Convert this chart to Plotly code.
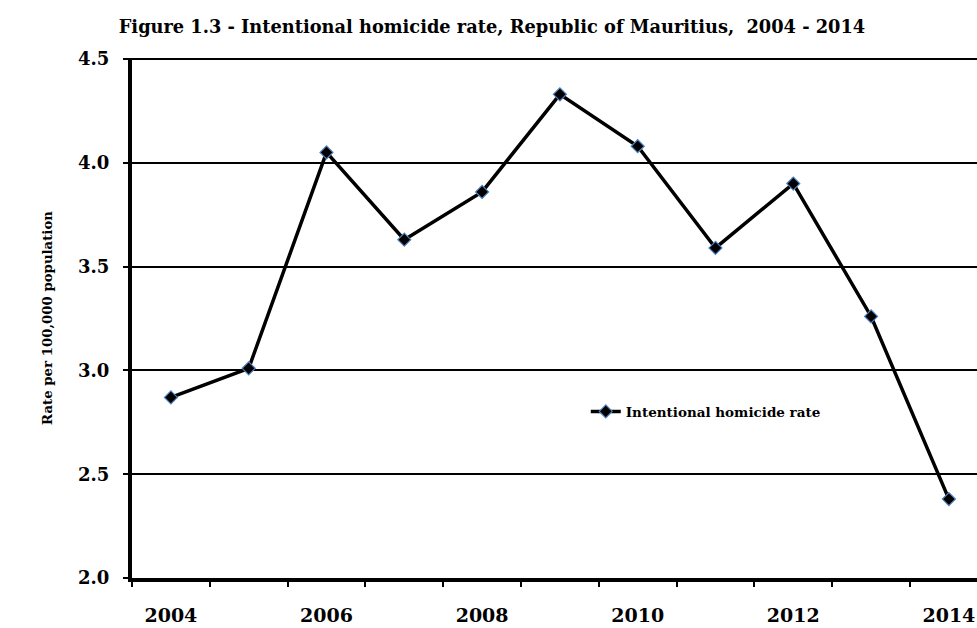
import plotly.graph_objects as go

years = [2004, 2005, 2006, 2007, 2008, 2009, 2010, 2011, 2012, 2013, 2014]
rates = [2.87, 3.01, 4.05, 3.63, 3.86, 4.33, 4.08, 3.59, 3.90, 3.26, 2.38]
label_years = [2004, 2006, 2008, 2010, 2012, 2014]
label_text = [str(y) for y in label_years]
y_ticks = [2.0, 2.5, 3.0, 3.5, 4.0, 4.5]

SERIF = "DejaVu Serif"

fig = go.Figure()
fig.add_trace(go.Scatter(
    x=years, y=rates, mode="lines+markers",
    name="Intentional homicide rate",
    line=dict(color="black", width=3.5),
    marker=dict(symbol="diamond", size=10, color="black",
                line=dict(color="#4F81BD", width=1.2)),
))

fig.update_layout(
    width=977, height=628,
    margin=dict(l=132, r=0, t=58, b=50),
    paper_bgcolor="white", plot_bgcolor="white",
    title=dict(text="Figure 1.3 - Intentional homicide rate, Republic of Mauritius,  2004 - 2014",
               x=492/977, xanchor="center", y=1-27/628, yanchor="middle",
               font=dict(family=SERIF, size=17.8, color="black", weight="bold")),
    showlegend=True,
    legend=dict(x=0.537, y=0.32, xanchor="left", yanchor="middle",
                bgcolor="rgba(0,0,0,0)",
                font=dict(family=SERIF, size=13.5, color="black", weight="bold")),
    xaxis=dict(
        range=[2003.5, 2003.5 + 845/77.8],
        tickvals=label_years, ticktext=label_text,
        ticks="", showgrid=False, zeroline=False, automargin=False,
        showline=True, linecolor="black", linewidth=4,
        minor=dict(ticks="outside", tick0=2003.5, dtick=1, ticklen=5,
                   tickwidth=2, tickcolor="black", showgrid=False),
        tickfont=dict(family=SERIF, size=19, color="black", weight="bold"),
        ticklabelstandoff=17,
    ),
    yaxis=dict(
        range=[2.0, 4.505], tickvals=y_ticks, tickformat=".1f",
        showgrid=True, gridcolor="black", gridwidth=2, zeroline=False,
        showline=True, linecolor="black", linewidth=4, automargin=False,
        ticks="outside", ticklen=5, tickwidth=2, tickcolor="black",
        tickfont=dict(family=SERIF, size=18, color="black", weight="bold"),
        ticklabelstandoff=10,
        title=dict(text="Rate per 100,000 population", standoff=23,
                   font=dict(family=SERIF, size=13.3, color="black", weight="bold")),
    ),
)

fig.write_html(
    "out.html",
    config={"displayModeBar": False},
    post_script="document.body.style.margin='0';document.body.style.overflow='hidden';",
)
